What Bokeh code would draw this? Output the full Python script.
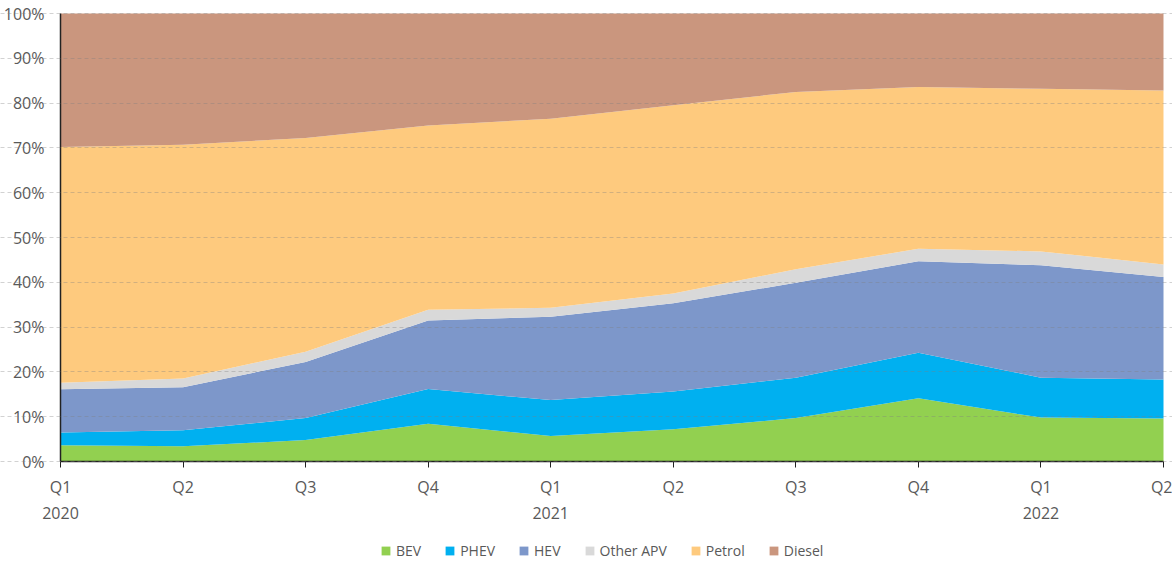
from bokeh.plotting import figure
from bokeh.models import ColumnDataSource, FixedTicker, PrintfTickFormatter, Legend
from bokeh.embed import file_html
from bokeh.resources import INLINE

quarters = ["Q1\n2020", "Q2", "Q3", "Q4", "Q1\n2021", "Q2", "Q3", "Q4", "Q1\n2022", "Q2"]
bev = [3.6, 3.4, 4.8, 8.4, 5.7, 7.2, 9.7, 14.1, 9.8, 9.6]
phev = [2.9, 3.6, 4.9, 7.8, 8.0, 8.4, 9.0, 10.2, 8.9, 8.7]
hev = [9.6, 9.6, 12.5, 15.3, 18.6, 19.7, 21.2, 20.4, 25.1, 22.9]
other_apv = [1.5, 1.9, 2.3, 2.4, 2.0, 2.2, 3.0, 2.8, 3.1, 2.8]
petrol = [52.6, 52.2, 47.7, 41.1, 42.2, 42.0, 39.6, 36.1, 36.3, 38.8]
diesel = [29.8, 29.3, 27.8, 25.0, 23.5, 20.5, 17.5, 16.4, 16.8, 17.2]

series_names = ["BEV", "PHEV", "HEV", "Other APV", "Petrol", "Diesel"]
colors = ["#92D050", "#00B0F0", "#7D97CA", "#D9D9D9", "#FECA7E", "#CA967E"]

x = list(range(len(quarters)))
source = ColumnDataSource(dict(x=x, BEV=bev, PHEV=phev, HEV=hev, **{"Other APV": other_apv},
                               Petrol=petrol, Diesel=diesel))

n_last = len(quarters) - 1
DATA_W = 1103       # pixels spanned by the quarters
LEFT_PAD = 60       # room left of the first quarter for the % labels
RIGHT_PAD = 9       # room right of the last quarter for its label
PLOT_H = 448        # pixels spanned by 0..100 %
TOP_PAD = 13        # room above 100 % for its label
EXTRA_H = 100       # room under the 0 line for tick labels and legend

px_per_x = DATA_W / n_last
x_start = -LEFT_PAD / px_per_x
x_end = n_last + RIGHT_PAD / px_per_x
y_min = -100.0 * EXTRA_H / PLOT_H
y_max = 100.0 + 100.0 * TOP_PAD / PLOT_H

p = figure(frame_width=DATA_W + LEFT_PAD + RIGHT_PAD, frame_height=PLOT_H + EXTRA_H + TOP_PAD,
           output_backend="svg", toolbar_location=None,
           x_range=(x_start, x_end), y_range=(y_min, y_max),
           min_border_left=0, min_border_top=0, min_border_right=0, min_border_bottom=0,
           background_fill_color="white", border_fill_color="white")
p.outline_line_color = None

renderers = p.varea_stack(stackers=series_names, x="x", color=colors, source=source)

FONT = "Open Sans"
GREY = "#595959"

# y axis, pinned at the first quarter
p.yaxis.fixed_location = 0
p.yaxis.ticker = FixedTicker(ticks=list(range(0, 101, 10)))
p.yaxis.formatter = PrintfTickFormatter(format="%d%%")
p.yaxis.bounds = (0, 100)
p.yaxis.major_tick_line_color = None
p.yaxis.minor_tick_line_color = None
p.yaxis.axis_line_color = "#222222"
p.yaxis.axis_line_width = 1.5
p.yaxis.major_label_text_font = FONT
p.yaxis.major_label_text_font_size = "16px"
p.yaxis.major_label_text_color = GREY
p.yaxis.major_label_standoff = 10

# x axis, pinned at the 0 % line
p.xaxis.fixed_location = 0
p.xaxis.bounds = (0, n_last)
p.xaxis.ticker = FixedTicker(ticks=x)
p.xaxis.major_label_overrides = {i: q for i, q in enumerate(quarters)}
p.xaxis.major_tick_in = 0
p.xaxis.major_tick_out = 6
p.xaxis.major_tick_line_color = "#222222"
p.xaxis.minor_tick_line_color = None
p.xaxis.axis_line_color = "#222222"
p.xaxis.axis_line_width = 1.5
p.xaxis.major_label_text_font = FONT
p.xaxis.major_label_text_font_size = "16px"
p.xaxis.major_label_text_color = GREY
p.xaxis.major_label_standoff = 8

# grid
p.xgrid.grid_line_color = None
p.ygrid.bounds = (0, n_last)
p.ygrid.grid_line_color = "#7f7f7f"
p.ygrid.grid_line_alpha = 0.35
p.ygrid.grid_line_dash = "4 3"
p.ygrid.level = "overlay"

legend = Legend(items=[(n, [r]) for n, r in zip(series_names, renderers)],
                orientation="horizontal", location=(LEFT_PAD + 320, 1))
legend.border_line_color = None
legend.background_fill_alpha = 0
legend.glyph_width = 11
legend.glyph_height = 11
legend.label_text_font = FONT
legend.label_text_font_size = "14px"
legend.label_text_color = GREY
legend.spacing = 23
legend.label_standoff = 5
legend.padding = 0
legend.margin = 0
p.add_layout(legend, "center")

open("out.html", "w").write(file_html(p, INLINE))
